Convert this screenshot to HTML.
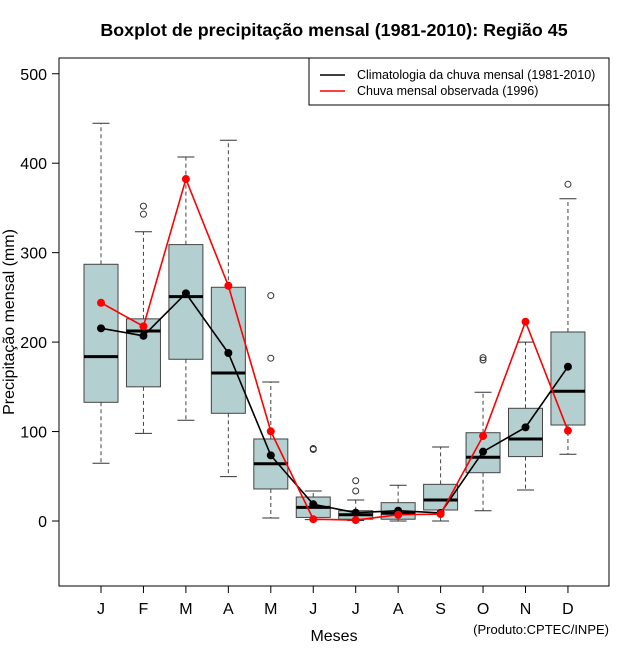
<!DOCTYPE html>
<html><head><meta charset="utf-8"><style>
body{margin:0;background:#fff}
svg{display:block;font-family:"Liberation Sans",sans-serif}
</style></head><body>
<svg id="c" width="640" height="660">
<text x="334" y="36" text-anchor="middle" font-size="17.9" font-weight="bold">Boxplot de precipitação mensal (1981-2010): Região 45</text>
<rect x="59" y="58" width="550" height="528" fill="none" stroke="#000"/>
<g id="axes"></g>
<g id="boxes"></g>
<g id="lines"></g>
<text x="334" y="641" text-anchor="middle" font-size="16">Meses</text>
<text transform="translate(14,322) rotate(-90)" text-anchor="middle" font-size="16">Precipitação mensal (mm)</text>
<text x="609" y="634" text-anchor="end" font-size="13">(Produto:CPTEC/INPE)</text>
<g>
<rect x="309" y="58" width="300" height="47" fill="#fff" stroke="#000"/>
<line x1="320" y1="75" x2="345" y2="75" stroke="#000" stroke-width="1.5"/>
<text x="357" y="79" font-size="12.5">Climatologia da chuva mensal (1981-2010)</text>
<line x1="320" y1="91" x2="345" y2="91" stroke="#f00" stroke-width="1.5"/>
<text x="357" y="95" font-size="12.5">Chuva mensal observada (1996)</text>
</g>
</svg>
<script>
const months=["J","F","M","A","M","J","J","A","S","O","N","D"];
const whiskLo=[64.5,98,112.6,49.6,3.4,1.5,0.5,0,0,11.5,34.7,74.6];
const q1=[132.7,150,180.8,120.4,35.8,4,2,2,12.3,54,72,107.3];
const med=[183.7,212.4,250.8,165.5,64,15.3,7,8.6,23.5,71.2,91.7,145];
const q3=[287,226,309,261.3,91.7,26.8,11.5,20.5,41,98.7,126,211.3];
const whiskHi=[444.6,323.4,407,425.6,155.4,33.5,23.5,40,82.7,143.9,200,360.3];
const outliers=[[],[352,343],[],[],[252,182],[80,81],[45,33.5],[],[],[182.6,180],[],[376.4]];
const climMean=[215.4,207,254.5,187.8,73.4,18.7,9.3,11.5,9,77.5,104.7,172.5];
const obs1996=[244,217.6,382.3,263,100.3,2,1,7,7.8,95,222.8,101];
const yTicks=[0,100,200,300,400,500];
const NS="http://www.w3.org/2000/svg";
const xs=i=>101+i*42.45;
const ys=v=>521-v*0.8945;
function mk(t,a,p){const e=document.createElementNS(NS,t);for(const k in a)e.setAttribute(k,a[k]);p.appendChild(e);return e;}
const ax=document.getElementById('axes'),bx=document.getElementById('boxes'),ln=document.getElementById('lines');
yTicks.forEach(v=>{
 const t=mk('line',{x1:52,x2:59,y1:ys(v),y2:ys(v),stroke:'#000'},ax);
 
 
 const l=mk('text',{x:47,y:ys(v)+6,'text-anchor':'end','font-size':16},ax);l.textContent=v;
 
 
});
months.forEach((m,i)=>{
 const t=mk('line',{x1:xs(i),x2:xs(i),y1:586,y2:593,stroke:'#000'},ax);
 
 
 const l=mk('text',{x:xs(i),y:614,'text-anchor':'middle','font-size':16},ax);l.textContent=m;
 
 
 const g=mk('g',{},bx);
 
 
 const x=xs(i);
 mk('line',{x1:x,x2:x,y1:ys(q3[i]),y2:ys(whiskHi[i]),stroke:'#444','stroke-dasharray':'4,3'},g);
 mk('line',{x1:x,x2:x,y1:ys(q1[i]),y2:ys(whiskLo[i]),stroke:'#444','stroke-dasharray':'4,3'},g);
 mk('line',{x1:x-8.5,x2:x+8.5,y1:ys(whiskHi[i]),y2:ys(whiskHi[i]),stroke:'#333'},g);
 mk('line',{x1:x-8.5,x2:x+8.5,y1:ys(whiskLo[i]),y2:ys(whiskLo[i]),stroke:'#333'},g);
 mk('rect',{x:x-17,y:ys(q3[i]),width:34,height:ys(q1[i])-ys(q3[i]),fill:'#b4cfcf',stroke:'#444'},g);
 mk('line',{x1:x-17,x2:x+17,y1:ys(med[i]),y2:ys(med[i]),stroke:'#000','stroke-width':3},g);
 outliers[i].forEach(o=>mk('circle',{cx:x,cy:ys(o),r:3,fill:'none',stroke:'#333'},g));
});
function series(arr,col,name){
 const p=mk('polyline',{points:arr.map((v,i)=>xs(i)+','+ys(v)).join(' '),fill:'none',stroke:col,'stroke-width':1.6},ln);
 
 
 arr.forEach((v,i)=>{const c=mk('circle',{cx:xs(i),cy:ys(v),r:4,fill:col},ln);
 
 });
}
series(climMean,'#000','climatology');
series(obs1996,'#f00','observed-1996');
</script>
</body></html>
